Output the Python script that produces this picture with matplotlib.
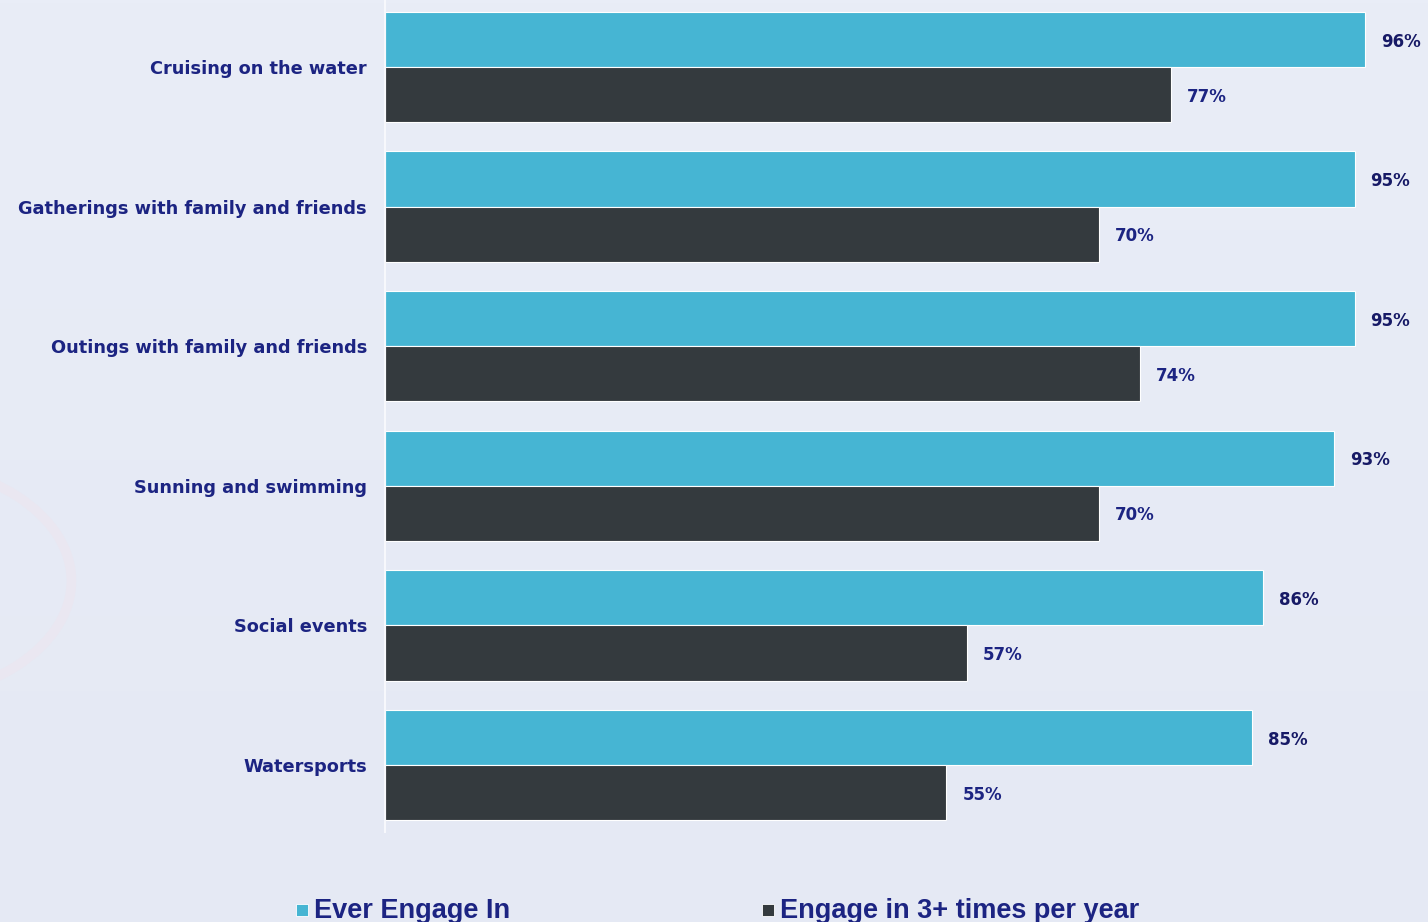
import numpy as np
import matplotlib.pyplot as plt
from matplotlib.colors import LinearSegmentedColormap
from matplotlib.patches import Circle, Rectangle

categories = ['Cruising on the water', 'Gatherings with family and friends',
              'Outings with family and friends', 'Sunning and swimming',
              'Social events', 'Watersports']
ever_engage = [96, 95, 95, 93, 86, 85]
engage_3plus = [77, 70, 74, 70, 57, 55]
series_names = ['Ever Engage In', 'Engage in 3+ times per year']

CYAN = '#46b5d3'
DARK = '#343a3e'
NAVY = '#1c2482'

plt.rcParams['font.family'] = ['DejaVu Sans']

fig = plt.figure(figsize=(14.28, 9.22), dpi=100)

# soft background with faint decorative rings
bg = fig.add_axes([0, 0, 1, 1], zorder=-10)
grad = np.linspace(0, 1, 256).reshape(-1, 1)
bg.imshow(grad, aspect='auto', extent=[0, 1, 0, 1],
          cmap=LinearSegmentedColormap.from_list('bg', ['#e9edf7', '#e5e9f4']))
ring = '#eae7f1'
bg.add_patch(Circle((-0.08, 0.37), 0.13, transform=bg.transAxes, fill=False,
                    ec=ring, lw=7))
bg.add_patch(Circle((-0.06, 0.37), 0.045, transform=bg.transAxes, fill=False,
                    ec=ring, lw=6))
bg.add_patch(Circle((-0.02, -0.12), 0.11, transform=bg.transAxes, fill=False,
                    ec=ring, lw=7))
bg.set_xlim(0, 1)
bg.set_ylim(0, 1)
bg.axis('off')

ax = fig.add_axes([385 / 1428, 1 - 832 / 922, 1 - 385 / 1428, 832 / 922])
ax.patch.set_alpha(0)

y = np.arange(len(categories))
h = 0.395
b1 = ax.barh(y - h / 2, ever_engage, height=h, color=CYAN, edgecolor='white', linewidth=0.8)
b2 = ax.barh(y + h / 2, engage_3plus, height=h, color=DARK, edgecolor='white', linewidth=0.8)

for bars, vals, col in [(b1, ever_engage, '#171a66'), (b2, engage_3plus, NAVY)]:
    for bar, v in zip(bars, vals):
        ax.annotate(f'{v}%', (v, bar.get_y() + bar.get_height() / 2),
                    xytext=(11.5, -1.5), textcoords='offset points',
                    ha='left', va='center', fontsize=12, fontweight='bold',
                    color=col, clip_on=False)

ax.set_xlim(0, 102.2)
ax.set_ylim(5.48, -0.48)
ax.set_yticks(y)
ax.set_yticklabels(categories, fontsize=12.8, fontweight='bold', color=NAVY)
ax.tick_params(axis='y', length=0, pad=13)
ax.set_xticks([])
for s in ['top', 'right', 'bottom']:
    ax.spines[s].set_visible(False)
ax.spines['left'].set_color('#f7f8fc')
ax.spines['left'].set_linewidth(1.5)

# legend drawn along the bottom edge
for xs, col, name in [(296, CYAN, series_names[0]), (762, DARK, series_names[1])]:
    fig.patches.append(Rectangle((xs / 1428, 1 - 916 / 922), 12 / 1428, 12 / 922,
                                 transform=fig.transFigure, color=col,
                                 ec='white', lw=0.6))
    fig.text((xs + 18) / 1428, 1 - 918 / 922, name, fontsize=19.5, fontweight='bold',
             color=NAVY, ha='left', va='baseline',
             family=['Liberation Sans Narrow', 'Liberation Sans', 'DejaVu Sans'])

fig.savefig('out.png', dpi=100)
